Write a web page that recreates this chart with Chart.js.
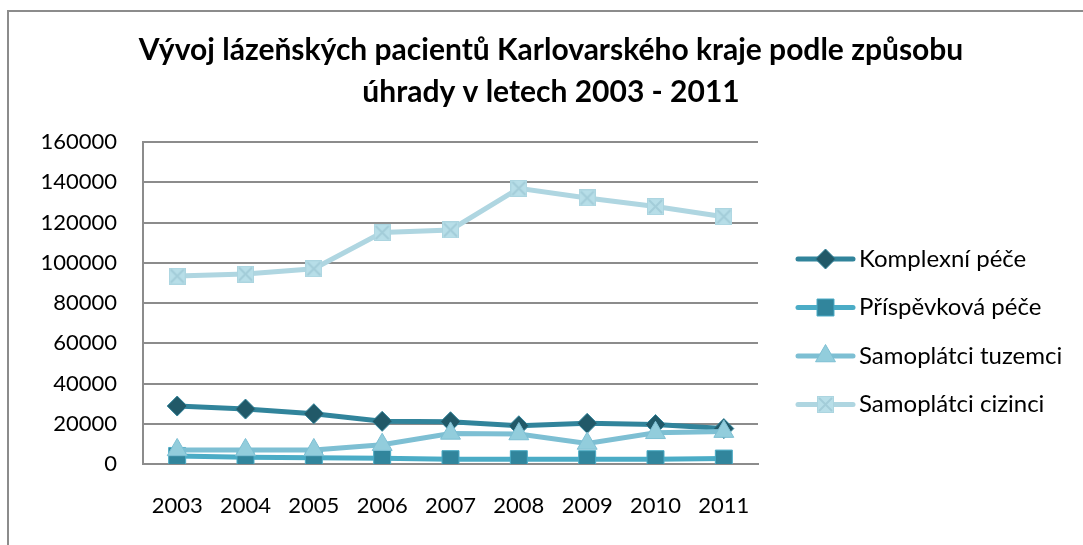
<!DOCTYPE html>
<html><head><meta charset="utf-8">
<script src="https://cdn.jsdelivr.net/npm/chart.js@4.4.1/dist/chart.umd.min.js"></script>
<style>
html,body{margin:0;padding:0;background:#fff;overflow:hidden;width:1083px;height:545px;}
#frame{position:absolute;left:7px;top:10px;width:1084px;height:533px;border-top:2px solid #8c8c8c;border-left:2px solid #8c8c8c;}
canvas{display:block;}
</style></head><body>
<div id="frame"><canvas id="c" width="1084" height="533"></canvas></div>
<script>
const years = ['2003','2004','2005','2006','2007','2008','2009','2010','2011'];
const seriesNames = ['Komplexní péče','Příspěvková péče','Samoplátci tuzemci','Samoplátci cizinci'];
const komplexni = [28800, 27300, 25000, 21200, 21000, 19000, 20200, 19600, 17600];
const prispevkova = [4000, 3300, 3100, 2800, 2400, 2400, 2400, 2400, 2700];
const tuzemci = [7000, 7000, 7000, 9600, 15200, 14900, 10200, 15500, 16100];
const cizinci = [93400, 94400, 97000, 115000, 116300, 137000, 132200, 127900, 122900];
const yMin = 0, yMax = 160000, yStep = 20000;
const titleLines = ['Vývoj lázeňských pacientů Karlovarského kraje podle způsobu','úhrady v letech 2003 - 2011'];

const FONT = 'Lato';

function makeCrossMarker(size){
  const c = document.createElement('canvas');
  c.width = size; c.height = size;
  const g = c.getContext('2d');
  g.fillStyle = '#b7dee8';
  g.fillRect(0,0,size,size);
  g.strokeStyle = '#acd5e0';
  g.lineWidth = 1;
  g.strokeRect(0.5,0.5,size-1,size-1);
  g.strokeStyle = '#a3cdd9';
  g.lineWidth = 2;
  g.beginPath();
  g.moveTo(2,2); g.lineTo(size-2,size-2);
  g.moveTo(size-2,2); g.lineTo(2,size-2);
  g.stroke();
  return c;
}
const crossImg = makeCrossMarker(17);

const datasets = [
  {label: seriesNames[0], data: komplexni, borderColor:'#31849b', backgroundColor:'#215968',
   pointBorderColor:'#31849b', pointStyle:'rectRot', pointRadius:10, pointBorderWidth:1, borderWidth:5, order:3},
  {label: seriesNames[1], data: prispevkova, borderColor:'#4bacc6', backgroundColor:'#31859c',
   pointBorderColor:'#4bacc6', pointStyle:'rect', pointRadius:12, pointBorderWidth:1, borderWidth:5, order:2},
  {label: seriesNames[2], data: tuzemci, borderColor:'#7dbfd3', backgroundColor:'#92cddc',
   pointBorderColor:'#7dbfd3', pointStyle:'triangle', pointRadius:11.5, pointBorderWidth:1, borderWidth:5, order:1},
  {label: seriesNames[3], data: cizinci, borderColor:'#afd6e1', backgroundColor:'#b7dee8',
   pointBorderColor:'#afd6e1', pointStyle:crossImg, pointRadius:9, pointBorderWidth:1, borderWidth:5, order:0}
];
datasets.forEach(d => { d.tension = 0; d.fill = false; d.pointBackgroundColor = d.backgroundColor; d.pointHoverRadius = d.pointRadius; });

function drawMarker(ctx, ds, x, y){
  const r = ds.pointRadius;
  ctx.save();
  ctx.fillStyle = ds.pointBackgroundColor;
  ctx.strokeStyle = ds.pointBorderColor;
  ctx.lineWidth = ds.pointBorderWidth;
  if (ds.pointStyle instanceof HTMLCanvasElement) {
    ctx.drawImage(ds.pointStyle, x - ds.pointStyle.width/2, y - ds.pointStyle.height/2);
  } else {
    ctx.beginPath();
    if (ds.pointStyle === 'rectRot') {
      ctx.moveTo(x, y-r); ctx.lineTo(x+r, y); ctx.lineTo(x, y+r); ctx.lineTo(x-r, y); ctx.closePath();
    } else if (ds.pointStyle === 'rect') {
      const s = r*Math.SQRT1_2; ctx.rect(x-s, y-s, 2*s, 2*s);
    } else if (ds.pointStyle === 'triangle') {
      const a = 2*Math.PI/3;
      ctx.moveTo(x, y-r);
      ctx.lineTo(x+Math.sin(a)*r, y-Math.cos(a)*r);
      ctx.lineTo(x+Math.sin(2*a)*r, y-Math.cos(2*a)*r);
      ctx.closePath();
    }
    ctx.fill(); ctx.stroke();
  }
  ctx.restore();
}

const titleAndLegend = {
  id: 'titleAndLegend',
  afterDraw(chart){
    const ctx = chart.ctx;
    // title
    ctx.save();
    ctx.fillStyle = '#000';
    ctx.font = 'bold 30px ' + FONT;
    ctx.textAlign = 'center';
    ctx.textBaseline = 'alphabetic';
    titleLines.forEach((t, i) => ctx.fillText(t, chart.width/2, 48 + i*42));
    ctx.restore();
    // legend
    const x0 = 789, x1 = 844, tx = 850, y0 = 247, dy = 48.5;
    chart.data.datasets.forEach((ds, i) => {
      const y = y0 + i*dy;
      ctx.save();
      ctx.strokeStyle = ds.borderColor;
      ctx.lineWidth = ds.borderWidth;
      ctx.lineCap = 'round';
      ctx.beginPath(); ctx.moveTo(x0, y); ctx.lineTo(x1, y); ctx.stroke();
      ctx.restore();
      drawMarker(ctx, ds, (x0+x1)/2, y);
      ctx.save();
      ctx.fillStyle = '#000';
      ctx.font = '24px ' + FONT;
      ctx.textBaseline = 'middle';
      ctx.textAlign = 'left';
      ctx.fillText(ds.label, tx, y);
      ctx.restore();
    });
  }
};

new Chart(document.getElementById('c'), {
  type: 'line',
  data: { labels: years, datasets: datasets },
  options: {
    responsive: false,
    animation: false,
    events: [],
    layout: { padding: { left: 0, right: 335, top: 130, bottom: 21 } },
    plugins: {
      legend: { display: false },
      tooltip: { enabled: false },
      title: { display: false }
    },
    scales: {
      x: {
        type: 'category',
        offset: true,
        grid: { display: false, drawTicks: false },
        border: { display: true, color: '#8c8c8c', width: 2 },
        ticks: { color: '#000', font: { family: FONT, size: 22 }, padding: 29, maxRotation: 0, autoSkip: false },
        afterFit(scale){ scale.height = 60; }
      },
      y: {
        min: yMin, max: yMax,
        grid: { color: '#8c8c8c', lineWidth: 2, drawTicks: false },
        border: { display: true, color: '#8c8c8c', width: 2 },
        ticks: { stepSize: yStep, color: '#000', font: { family: FONT, size: 22 }, padding: 26,
                 callback: v => String(v) },
        afterFit(scale){ scale.width = 134; }
      }
    }
  },
  plugins: [titleAndLegend]
});
</script>
</body></html>
